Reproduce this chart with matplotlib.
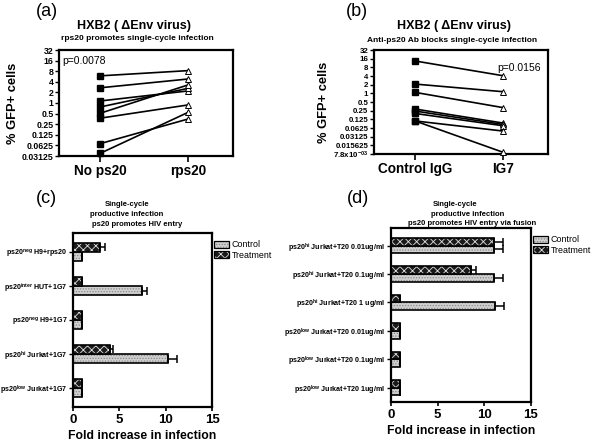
import matplotlib
matplotlib.use('Agg')
import matplotlib.pyplot as plt
from matplotlib.patches import Patch
import numpy as np

plt.rcParams['font.family'] = ['Liberation Sans', 'DejaVu Sans']
plt.rcParams['mathtext.fontset'] = 'custom'
plt.rcParams['mathtext.rm'] = 'Liberation Sans:bold'
plt.rcParams['mathtext.default'] = 'rm'
plt.rcParams['hatch.linewidth'] = 0.6

# panel (a) / (b): paired % GFP+ cells
a_groups = ['No ps20', 'rps20']
a_none = [5.9, 2.7, 1.14, 0.77, 0.51, 0.37, 0.07, 0.037]
a_rps20 = [8.3, 4.8, 2.2, 2.6, 3.25, 0.88, 0.35, 0.54]
a_ticks = [32, 16, 8, 4, 2, 1, 0.5, 0.25, 0.125, 0.0625, 0.03125]
a_ticklabels = ['32', '16', '8', '4', '2', '1', '0.5', '0.25', '0.125', '0.0625', '0.03125']

b_groups = ['Control IgG', 'IG7']
b_ctrl = [13.3, 2.1, 1.08, 0.285, 0.243, 0.2, 0.11, 0.11]
b_ig7 = [4.1, 1.14, 0.32, 0.093, 0.083, 0.075, 0.049, 0.009]
b_ticks = [32, 16, 8, 4, 2, 1, 0.5, 0.25, 0.125, 0.0625, 0.03125, 0.015625, 0.0078125]
b_ticklabels = ['32', '16', '8', '4', '2', '1', '0.5', '0.25', '0.125', '0.0625',
                '0.03125', '0.015625', '7.8x10$^{-03}$']

# panel (c) / (d): fold increase bars
c_labels = ['ps20$^{neg}$ H9+rps20', 'ps20$^{inter}$ HUT+1G7', 'ps20$^{neg}$ H9+1G7',
            'ps20$^{hi}$ Jurkat+1G7', 'ps20$^{low}$ Jurkat+1G7']
c_ctrl = [1, 7.4, 1, 10.2, 1]
c_ctrl_err = [0, 0.6, 0, 1.0, 0]
c_trt = [2.9, 1, 1, 4.0, 1]
c_trt_err = [0.6, 0, 0, 0.35, 0]

d_labels = ['ps20$^{hi}$ Jurkat+T20 0.01ug/ml', 'ps20$^{hi}$ Jurkat+T20 0.1ug/ml',
            'ps20$^{hi}$ Jurkat+T20 1 ug/ml', 'ps20$^{low}$ Jurkat+T20 0.01ug/ml',
            'ps20$^{low}$ Jurkat+T20 0.1ug/ml', 'ps20$^{low}$ Jurkat+T20 1ug/ml']
d_ctrl = [11.0, 11.0, 11.1, 1, 1, 1]
d_ctrl_err = [1.0, 1.0, 1.05, 0, 0, 0]
d_trt = [11.0, 8.6, 1, 1, 1, 1]
d_trt_err = [1.05, 0.5, 0, 0, 0, 0]

fig = plt.figure(figsize=(5.92, 4.41), dpi=100)
W, H = 592.0, 441.0


def box(l, t, r, b):
    return [l / W, 1 - b / H, (r - l) / W, (b - t) / H]


def ftext(x, y, s, **kw):
    fig.text(x / W, 1 - y / H, s, ha='center', va='center', **kw)


def paired(ax, left, right, ticks, ticklabels, groups, tfs):
    for y0, y1 in zip(left, right):
        ax.plot([0, 1], [y0, y1], color='black', lw=1.2, clip_on=False, zorder=2)
    ax.plot(np.zeros(len(left)), left, 's', color='black', ms=4, clip_on=False, zorder=3)
    ax.plot(np.ones(len(right)), right, '^', mfc='white', mec='black', ms=4.5,
            mew=0.7, clip_on=False, zorder=3)
    ax.set_yscale('log', base=2)
    ax.set_ylim(ticks[-1], ticks[0])
    ax.set_yticks(ticks)
    ax.set_yticklabels(ticklabels, fontsize=tfs, fontweight='bold')
    ax.yaxis.set_minor_locator(matplotlib.ticker.NullLocator())
    ax.set_xlim(-0.467, 1.513)
    ax.set_xticks([0, 1])
    ax.set_xticklabels(groups, fontsize=9.8, fontweight='bold')
    ax.tick_params(axis='y', length=3, width=1, pad=1)
    ax.tick_params(axis='x', length=4, width=1.2, pad=2)
    for s in ax.spines.values():
        s.set_linewidth(1.6)
    ax.set_ylabel('% GFP+ cells', fontsize=9.3, fontweight='bold', labelpad=2)


ax_a = fig.add_axes(box(59, 50, 233, 156))
paired(ax_a, a_none, a_rps20, a_ticks, a_ticklabels, a_groups, 6.3)
ax_a.text(0.02, 0.94, 'p=0.0078', transform=ax_a.transAxes, fontsize=7.5, va='top')

ax_b = fig.add_axes(box(374, 50, 548, 154))
paired(ax_b, b_ctrl, b_ig7, b_ticks, b_ticklabels, b_groups, 5.7)
ax_b.text(0.96, 0.83, 'p=0.0156', transform=ax_b.transAxes, fontsize=7.5,
          va='center', ha='right')

ftext(47, 12, '(a)', fontsize=13)
ftext(134, 26, 'HXB2 ( \u0394Env virus)', fontsize=9, fontweight='bold')
ftext(137, 39, 'rps20 promotes single-cycle infection', fontsize=6, fontweight='bold')
ftext(357, 12, '(b)', fontsize=13)
ftext(454, 26, 'HXB2 ( \u0394Env virus)', fontsize=9, fontweight='bold')
ftext(452, 41, 'Anti-ps20 Ab blocks single-cycle infection', fontsize=6, fontweight='bold')


def bars(ax, labels, ctrl, ctrl_err, trt, trt_err, ylim):
    pos = np.arange(len(labels))
    h = 0.27
    yt = pos - h / 2
    yc = pos + h / 2
    # control: light stipple
    ax.barh(yc, ctrl, height=h, color='#d0d0d0', edgecolor='#888888', hatch='......', lw=0)
    ax.barh(yc, ctrl, height=h, fill=False, edgecolor='black', lw=1.2)
    # treatment: dark with white checks
    ax.barh(yt, trt, height=h, color='#1a1a1a', edgecolor='#dddddd', hatch='xxxx', lw=0)
    ax.barh(yt, trt, height=h, fill=False, edgecolor='black', lw=1.2)
    n = len(labels)
    ax.errorbar(ctrl, yc, xerr=[np.zeros(n), ctrl_err], fmt='none', ecolor='black',
                elinewidth=1.1, capsize=2.8, capthick=1.1)
    ax.errorbar(trt, yt, xerr=[np.zeros(n), trt_err], fmt='none', ecolor='black',
                elinewidth=1.1, capsize=2.8, capthick=1.1)
    ax.set_xlim(0, 15)
    ax.set_xticks([0, 5, 10, 15])
    ax.set_xticklabels(['0', '5', '10', '15'], fontsize=9.5, fontweight='bold')
    ax.set_yticks(pos)
    ax.set_yticklabels(labels, fontsize=5.1, fontweight='bold')
    ax.set_ylim(*ylim)
    ax.tick_params(axis='y', length=3, width=1, pad=1)
    ax.tick_params(axis='x', length=3, width=1.2, pad=2)
    for s in ax.spines.values():
        s.set_linewidth(1.6)
    ax.set_xlabel('Fold increase in infection', fontsize=8.8, fontweight='bold', labelpad=3)
    ctrl_h = (Patch(facecolor='#d0d0d0', edgecolor='#888888', hatch='......', lw=0),
              Patch(fill=False, edgecolor='black', lw=0.9))
    trt_h = (Patch(facecolor='#1a1a1a', edgecolor='#dddddd', hatch='xxxx', lw=0),
             Patch(fill=False, edgecolor='black', lw=0.9))
    ax.legend([ctrl_h, trt_h], ['Control', 'Treatment'], loc='upper left',
              bbox_to_anchor=(1.0, 0.97), frameon=False, fontsize=6.4,
              handlelength=1.7, handleheight=0.8, handletextpad=0.25,
              labelspacing=0.15, borderaxespad=0.05, borderpad=0.2)


ax_c = fig.add_axes(box(73, 233, 212, 407))
bars(ax_c, c_labels, c_ctrl, c_ctrl_err, c_trt, c_trt_err, (4.56, -0.56))

ax_d = fig.add_axes(box(391, 228, 531, 402))
bars(ax_d, d_labels, d_ctrl, d_ctrl_err, d_trt, d_trt_err, (5.5, -0.62))

ftext(46, 198, '(c)', fontsize=13)
ftext(127, 204, 'Single-cycle', fontsize=5.5, fontweight='bold')
ftext(127, 215, 'productive infection', fontsize=5.5, fontweight='bold')
ftext(137, 225, 'ps20 promotes HIV entry', fontsize=5.5, fontweight='bold')
ftext(358, 198, '(d)', fontsize=13)
ftext(455, 204, 'Single-cycle', fontsize=5.5, fontweight='bold')
ftext(468, 214, 'productive infection', fontsize=5.5, fontweight='bold')
ftext(472, 223, 'ps20 promotes HIV entry via fusion', fontsize=5.5, fontweight='bold')

fig.savefig('out.png', dpi=100)
